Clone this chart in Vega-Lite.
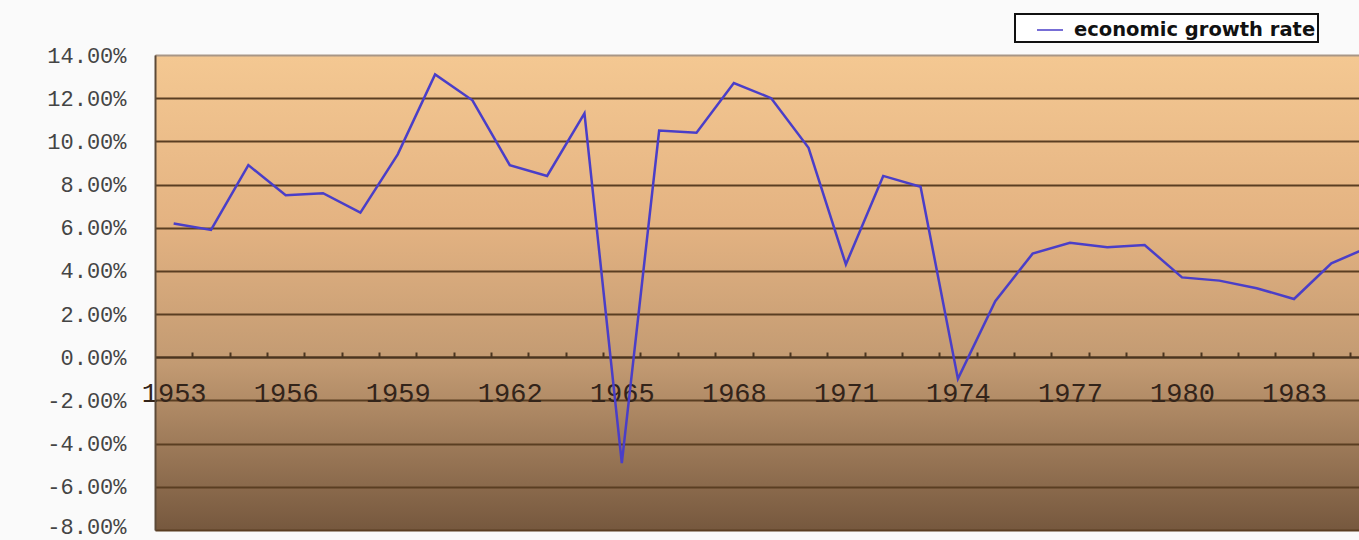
{
  "$schema": "https://vega.github.io/schema/vega-lite/v6.json",
  "autosize": {"type": "none"},
  "padding": {"left": 155, "top": 55, "right": 0, "bottom": 10},
  "width": 1204,
  "height": 475,
  "background": "#fafafa",
  "view": {
    "fill": {
      "gradient": "linear", "x1": 0, "y1": 0, "x2": 0, "y2": 1,
      "stops": [
        {"offset": 0, "color": "#f4c892"},
        {"offset": 0.35, "color": "#e4b382"},
        {"offset": 0.65, "color": "#c29a72"},
        {"offset": 1, "color": "#76583e"}
      ]
    },
    "stroke": "#a89686",
    "strokeWidth": 1
  },
  "data": {
    "values": [
      {"year": 1953, "rate": 6.2, "series": "economic growth rate"},
      {"year": 1954, "rate": 5.9, "series": "economic growth rate"},
      {"year": 1955, "rate": 8.9, "series": "economic growth rate"},
      {"year": 1956, "rate": 7.5, "series": "economic growth rate"},
      {"year": 1957, "rate": 7.6, "series": "economic growth rate"},
      {"year": 1958, "rate": 6.7, "series": "economic growth rate"},
      {"year": 1959, "rate": 9.4, "series": "economic growth rate"},
      {"year": 1960, "rate": 13.1, "series": "economic growth rate"},
      {"year": 1961, "rate": 11.9, "series": "economic growth rate"},
      {"year": 1962, "rate": 8.9, "series": "economic growth rate"},
      {"year": 1963, "rate": 8.4, "series": "economic growth rate"},
      {"year": 1964, "rate": 11.3, "series": "economic growth rate"},
      {"year": 1965, "rate": -4.9, "series": "economic growth rate"},
      {"year": 1966, "rate": 10.5, "series": "economic growth rate"},
      {"year": 1967, "rate": 10.4, "series": "economic growth rate"},
      {"year": 1968, "rate": 12.7, "series": "economic growth rate"},
      {"year": 1969, "rate": 12.0, "series": "economic growth rate"},
      {"year": 1970, "rate": 9.7, "series": "economic growth rate"},
      {"year": 1971, "rate": 4.3, "series": "economic growth rate"},
      {"year": 1972, "rate": 8.4, "series": "economic growth rate"},
      {"year": 1973, "rate": 7.9, "series": "economic growth rate"},
      {"year": 1974, "rate": -1.0, "series": "economic growth rate"},
      {"year": 1975, "rate": 2.6, "series": "economic growth rate"},
      {"year": 1976, "rate": 4.8, "series": "economic growth rate"},
      {"year": 1977, "rate": 5.3, "series": "economic growth rate"},
      {"year": 1978, "rate": 5.1, "series": "economic growth rate"},
      {"year": 1979, "rate": 5.2, "series": "economic growth rate"},
      {"year": 1980, "rate": 3.7, "series": "economic growth rate"},
      {"year": 1981, "rate": 3.55, "series": "economic growth rate"},
      {"year": 1982, "rate": 3.2, "series": "economic growth rate"},
      {"year": 1983, "rate": 2.7, "series": "economic growth rate"},
      {"year": 1984, "rate": 4.35, "series": "economic growth rate"},
      {"year": 1985, "rate": 5.1, "series": "economic growth rate"}
    ]
  },
  "mark": {"type": "line", "clip": true, "strokeWidth": 2.5},
  "encoding": {
    "x": {
      "field": "year", "type": "quantitative",
      "scale": {"domain": [1952.5, 1984.74], "nice": false, "zero": false},
      "axis": {
        "title": null,
        "offset": -173,
        "values": [1953,1954,1955,1956,1957,1958,1959,1960,1961,1962,1963,1964,1965,1966,1967,1968,1969,1970,1971,1972,1973,1974,1975,1976,1977,1978,1979,1980,1981,1982,1983,1984],
        "format": "d",
        "labelExpr": "(datum.value - 1953) % 3 == 0 ? datum.label : ''",
        "tickOffset": 18.67,
        "labelOffset": -18.67,
        "tickSize": -5,
        "tickWidth": 2,
        "tickColor": "#4a3520",
        "domainColor": "#4a3520",
        "domainWidth": 2,
        "grid": false,
        "labelFont": "Liberation Mono",
        "labelFontSize": 27,
        "labelColor": "#33241a",
        "labelBaseline": "alphabetic",
        "labelPadding": 49,
        "labelOverlap": false,
        "labelFlush": false
      }
    },
    "y": {
      "field": "rate", "type": "quantitative",
      "scale": {"domain": [-8, 14], "nice": false},
      "axis": {
        "title": null,
        "values": [-8,-6,-4,-2,0,2,4,6,8,10,12,14],
        "labelExpr": "(datum.value < 0 ? '-' : '') + format(abs(datum.value), '.2f') + '%'",
        "ticks": false,
        "grid": true,
        "gridColor": {"condition": {"test": "datum.value == 14", "value": "#a89686"}, "value": "#5a3e22"},
        "gridWidth": 2.2,
        "gridOpacity": 1,
        "domainColor": "#5c4a38",
        "domainWidth": 2,
        "labelFont": "Liberation Mono",
        "labelFontSize": 22,
        "labelOffset": {"condition": {"test": "datum.value == -8", "value": -4}, "value": 0},
        "labelColor": "#444444",
        "labelPadding": 29,
        "labelOverlap": false,
        "labelFlush": false
      }
    },
    "color": {
      "field": "series", "type": "nominal",
      "scale": {"range": ["#4a3ec8"]},
      "legend": {
        "title": null,
        "orient": "none",
        "legendX": 860,
        "legendY": -41,
        "direction": "horizontal",
        "fillColor": "#ffffff",
        "strokeColor": "#111111",
        "padding": 2,
        "symbolOffset": 19,
        "symbolType": "stroke",
        "symbolSize": 676,
        "symbolStrokeWidth": 1.5,
        "symbolStrokeColor": "#8a8aa8",
        "labelFont": "DejaVu Sans",
        "labelFontWeight": "bold",
        "labelFontSize": 19.5,
        "labelColor": "#111111",
        "labelLimit": 400,
        "labelOffset": 10
      }
    }
  },
  "config": {"legend": {"strokeWidth": 2}}
}
